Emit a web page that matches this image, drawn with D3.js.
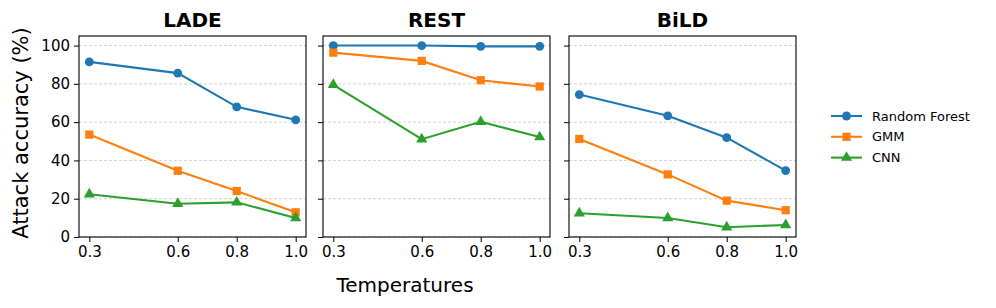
<!DOCTYPE html>
<html>
<head>
<meta charset="utf-8">
<script src="https://cdn.jsdelivr.net/npm/d3@7"></script>
<style>
  body { margin: 0; background: #fff; }
  svg { font-family: "DejaVu Sans", sans-serif; }
</style>
</head>
<body>
<div id="chart"></div>
<script>
const temperatures = [0.3, 0.6, 0.8, 1.0];
const tickLabels = ["0.3", "0.6", "0.8", "1.0"];
const yTicks = [0, 20, 40, 60, 80, 100];
const datasets = ["LADE", "REST", "BiLD"];
const methods = ["Random Forest", "GMM", "CNN"];

// values per dataset, one array per method
const ladeRF = [91.5, 85.6, 68.0, 61.2];
const ladeGMM = [53.5, 34.6, 24.0, 12.9];
const ladeCNN = [22.3, 17.4, 18.1, 9.9];

const restRF = [100.0, 100.0, 99.6, 99.6];
const restGMM = [96.3, 92.0, 81.9, 78.6];
const restCNN = [79.5, 51.1, 60.2, 52.2];

const bildRF = [74.4, 63.3, 51.9, 34.7];
const bildGMM = [51.2, 32.7, 19.0, 14.0];
const bildCNN = [12.4, 9.9, 5.1, 6.3];

const values = {
  LADE: [ladeRF, ladeGMM, ladeCNN],
  REST: [restRF, restGMM, restCNN],
  BiLD: [bildRF, bildGMM, bildCNN],
};

const colors = ["#1f77b4", "#ff7f0e", "#2ca02c"];
const shapes = [d3.symbolCircle, d3.symbolSquare, d3.symbolTriangle];
const symSize = [62, 68, 54];

const width = 996;
const height = 308;
const panelLeft = [79, 323, 569];
const panelW = 227;
const plotTop = 36;
const plotBottom = 237;

const svg = d3.select("#chart").append("svg")
  .attr("width", width)
  .attr("height", height);

const y = d3.scaleLinear().domain([0, 105]).range([plotBottom, plotTop]);

datasets.forEach((name, i) => {
  const x0 = panelLeft[i];
  const x = d3.scaleLinear()
    .domain([0.265, 1.035])
    .range([x0, x0 + panelW]);

  const g = svg.append("g");

  // grid
  g.append("g").selectAll("line").data(yTicks).join("line")
    .attr("x1", x0).attr("x2", x0 + panelW)
    .attr("y1", d => y(d)).attr("y2", d => y(d))
    .attr("stroke", "#b0b0b0")
    .attr("stroke-width", 0.8)
    .attr("stroke-dasharray", "3,2")
    .attr("opacity", 0.7);

  // axes
  const xa = g.append("g")
    .attr("transform", `translate(0,${plotBottom})`)
    .call(d3.axisBottom(x).tickValues(temperatures)
      .tickFormat((d, k) => tickLabels[k]).tickSize(5).tickPadding(4).tickSizeOuter(0));
  const ya = g.append("g")
    .attr("transform", `translate(${x0},0)`)
    .call(d3.axisLeft(y).tickValues(yTicks).tickSize(5).tickPadding(4).tickSizeOuter(0)
      .tickFormat(i === 0 ? d3.format("d") : () => ""));
  [xa, ya].forEach(a => {
    a.select(".domain").remove();
    a.selectAll("text").attr("font-size", 15).attr("fill", "#000")
      .attr("font-family", "DejaVu Sans");
    a.selectAll(".tick line").attr("stroke", "#000").attr("stroke-width", 1);
  });

  const line = d3.line().x((d, k) => x(temperatures[k])).y(d => y(d));

  values[name].forEach((series, m) => {
    g.append("path")
      .datum(series)
      .attr("d", line)
      .attr("fill", "none")
      .attr("stroke", colors[m])
      .attr("stroke-width", 2.1);
    g.append("g").selectAll("path").data(series).join("path")
      .attr("transform", (d, k) => `translate(${x(temperatures[k])},${y(d)})`)
      .attr("d", d3.symbol().type(shapes[m]).size(symSize[m]))
      .attr("fill", colors[m]);
  });

  // frame
  g.append("rect")
    .attr("x", x0).attr("y", plotTop)
    .attr("width", panelW).attr("height", plotBottom - plotTop)
    .attr("fill", "none")
    .attr("stroke", "#000")
    .attr("stroke-width", 1.1);

  g.append("text")
    .attr("x", x0 + panelW / 2)
    .attr("y", 27)
    .attr("text-anchor", "middle")
    .attr("font-size", 20)
    .attr("font-weight", "bold")
    .text(name);
});

svg.append("text")
  .attr("x", 405)
  .attr("y", 292)
  .attr("text-anchor", "middle")
  .attr("font-size", 20)
  .text("Temperatures");

svg.append("text")
  .attr("transform", `translate(28,133) rotate(-90)`)
  .attr("text-anchor", "middle")
  .attr("font-size", 21)
  .text("Attack accuracy (%)");

// legend
const legend = svg.append("g");
methods.forEach((m, k) => {
  const ly = 116 + k * 20.8;
  legend.append("line")
    .attr("x1", 831).attr("x2", 862)
    .attr("y1", ly).attr("y2", ly)
    .attr("stroke", colors[k]).attr("stroke-width", 2.1);
  legend.append("path")
    .attr("transform", `translate(846.5,${ly})`)
    .attr("d", d3.symbol().type(shapes[k]).size(symSize[k]))
    .attr("fill", colors[k]);
  legend.append("text")
    .attr("x", 872)
    .attr("y", ly)
    .attr("dy", "0.36em")
    .attr("font-size", 13)
    .text(m);
});
</script>
</body>
</html>
